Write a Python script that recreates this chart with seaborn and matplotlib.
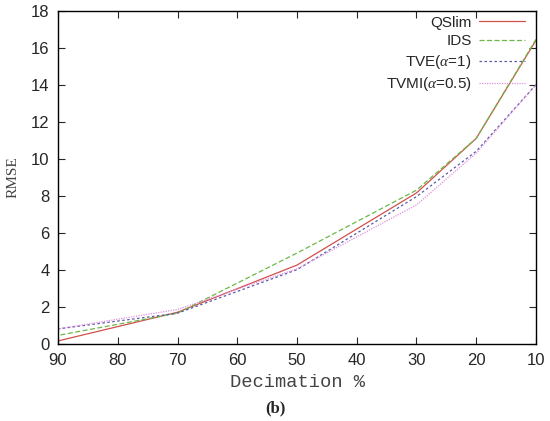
import matplotlib
matplotlib.use("Agg")
import matplotlib.pyplot as plt
import seaborn as sns
import pandas as pd

decimation = [90, 70, 50, 30, 20, 10]
qslim = [0.15, 1.70, 4.25, 8.15, 11.10, 16.40]
ids = [0.45, 1.65, 4.90, 8.30, 11.10, 16.45]
tve = [0.80, 1.65, 4.00, 7.95, 10.40, 14.00]
tvmi = [0.80, 1.85, 4.05, 7.50, 10.30, 14.00]
labels = ["QSlim", "IDS", r"TVE($\alpha$=1)", r"TVMI($\alpha$=0.5)"]

sns.set_theme(style="ticks")
plt.rcParams["font.family"] = ["Liberation Sans", "DejaVu Sans"]
plt.rcParams["mathtext.fontset"] = "custom"
plt.rcParams["mathtext.it"] = "Liberation Serif:italic"
plt.rcParams["mathtext.rm"] = "Liberation Sans"

df = pd.DataFrame({"dec": decimation * 4,
                   "rmse": qslim + ids + tve + tvmi,
                   "method": sum([[l] * len(decimation) for l in labels], [])})

styles = [("#d0504a", "-", 0.9), ("#6cb84a", (0, (4, 2)), 0.9),
          ("#5a5aa8", (0, (2, 2)), 0.9), ("#e090e0", (0, (1, 1)), 0.9)]

fig = plt.figure(figsize=(5.5, 4.21), dpi=100)
ax = fig.add_axes([0.1055, 0.1836, 0.869, 0.791])
for lab, (c, ls, lw) in zip(labels, styles):
    sns.lineplot(data=df[df["method"] == lab], x="dec", y="rmse", ax=ax,
                 color=c, linestyle=ls, linewidth=lw, label=lab)

ax.set_xlim(90, 10)
ax.set_ylim(0, 18)
ax.set_xticks([90, 80, 70, 60, 50, 40, 30, 20, 10])
ax.set_yticks(range(0, 19, 2))
ax.tick_params(direction="in", top=True, right=True, labelsize=12, length=5, width=0.8)
ax.tick_params(axis="x", pad=7)
ax.tick_params(axis="y", pad=6)
for s in ax.spines.values():
    s.set_linewidth(1.0)
    s.set_color("black")
ax.set_xlabel("Decimation %", family="Liberation Mono", fontsize=13.5, labelpad=4, color="#444444")
ax.set_ylabel("RMSE", family="Liberation Serif", fontsize=11, labelpad=8, color="#444444")
leg = ax.legend(loc="upper right", bbox_to_anchor=(0.977, 0.985), frameon=False,
                markerfirst=False, fontsize=11, handlelength=3.0, labelspacing=0.3,
                borderaxespad=0, handletextpad=0.5, borderpad=0)
for t in leg.get_texts():
    t.set_ha("right")
fig.text(0.5, 0.02, "(b)", ha="center", family="Liberation Serif", fontweight="bold", fontsize=12)

fig.savefig("out.png", dpi=100)
